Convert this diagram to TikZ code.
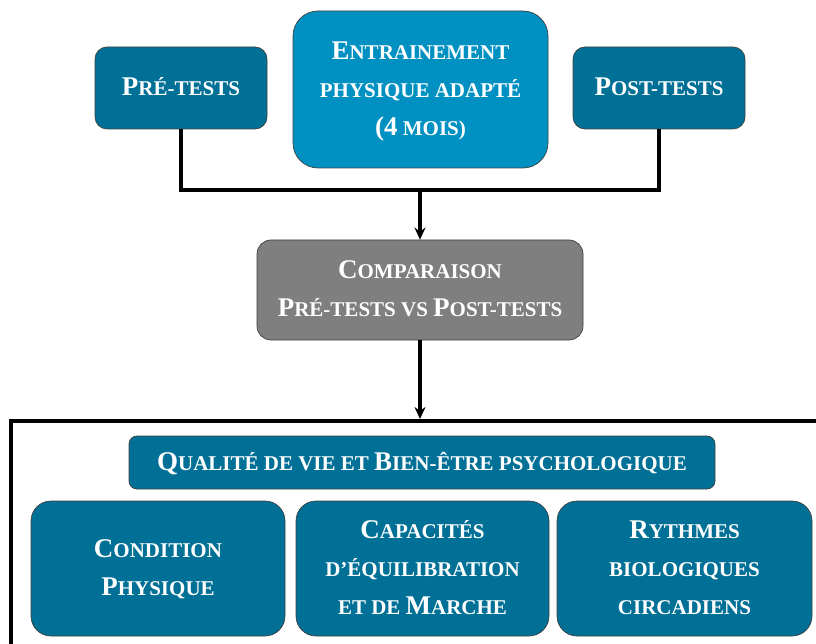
\documentclass[tikz,border=0pt]{standalone}
\usepackage{fontspec}
\setmainfont{Liberation Serif}
\usetikzlibrary{arrows.meta}
\definecolor{tealdark}{RGB}{0,112,150}
\definecolor{teallight}{RGB}{0,145,194}
\definecolor{greybox}{RGB}{127,127,127}
\newcommand\Bg[1]{{\fontsize{27}{38}\selectfont #1}}
\newcommand\Sm[1]{{\fontsize{21}{38}\selectfont #1}}
\newcommand\Lines[1]{\fontsize{21}{38}\selectfont\begin{tabular}{@{}c@{}}#1\end{tabular}}
\begin{document}
\begin{tikzpicture}[x=1pt,y=-1pt,
  boxbase/.style={rectangle,draw=black!75,line width=0.7pt,text=white,font=\bfseries,inner sep=0pt,align=center},
  smallbox/.style={boxbase,fill=tealdark,minimum width=172pt,minimum height=82pt,rounded corners=12pt},
  bigbox/.style={boxbase,fill=teallight,minimum width=255pt,minimum height=157pt,rounded corners=25pt},
  cmpbox/.style={boxbase,fill=greybox,minimum width=326pt,minimum height=100pt,rounded corners=14pt},
  qbox/.style={boxbase,fill=tealdark,minimum width=586pt,minimum height=53pt,rounded corners=8pt},
  outbox/.style={boxbase,fill=tealdark,minimum width=254pt,minimum height=135pt,rounded corners=20pt},
  conn/.style={line width=4pt,black},
  arr/.style={line width=4pt,black,-{Stealth[length=12pt,width=11pt]}}]
\useasboundingbox (0,0) rectangle (816,644);
\node[smallbox] (pre) at (181,88) {\Lines{\Bg{P}\Sm{RÉ-TESTS}}};
\node[bigbox] (ent) at (420.5,89.5) {\Lines{\Bg{E}\Sm{NTRAINEMENT}\\ \Sm{PHYSIQUE ADAPTÉ}\\ \Bg{(4} \Sm{MOIS)}}};
\node[smallbox] (post) at (659,88) {\Lines{\Bg{P}\Sm{OST-TESTS}}};
\node[cmpbox] (cmp) at (420,290) {\Lines{\Bg{C}\Sm{OMPARAISON}\\ \Bg{P}\Sm{RÉ-TESTS VS }\Bg{P}\Sm{OST-TESTS}}};
\coordinate (j) at (420,190);
\draw[conn] (pre.south) |- (post.south |- j) -- (post.south);
\draw[arr] (j) -- (cmp.north);
\coordinate (bt) at (420,419);
\coordinate (bl) at (11,421);
\coordinate (br) at (830,421);
\coordinate (bb) at (11,660);
\draw[conn] (br) -- (bl) -- (bb);
\draw[arr] (cmp.south) -- (bt);
\node[qbox] (q) at (422,462.5) {\Lines{\Bg{Q}\Sm{UALITÉ DE VIE ET }\Bg{B}\Sm{IEN-ÊTRE PSYCHOLOGIQUE}}};
\node[outbox] (cond) at (158,568.5) {\Lines{\Bg{C}\Sm{ONDITION}\\ \Bg{P}\Sm{HYSIQUE}}};
\node[outbox,minimum width=253pt] (cap) at (422.5,568.5) {\Lines{\Bg{C}\Sm{APACITÉS}\\ \Sm{D’ÉQUILIBRATION}\\ \Sm{ET DE }\Bg{M}\Sm{ARCHE}}};
\node[outbox,minimum width=255pt] (ryt) at (684.5,568.5) {\Lines{\Bg{R}\Sm{YTHMES}\\ \Sm{BIOLOGIQUES}\\ \Sm{CIRCADIENS}}};
\end{tikzpicture}
\end{document}
